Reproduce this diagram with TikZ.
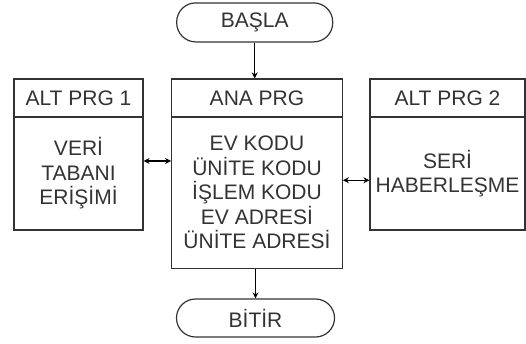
\documentclass[tikz,border=0pt]{standalone}
\usepackage{fontspec}
\setmainfont{Liberation Sans}
\usetikzlibrary{arrows.meta}
\definecolor{linec}{HTML}{333333}
\definecolor{textc}{HTML}{333333}
\tikzset{
  box/.style={draw=linec, line width=1.2pt, rectangle, inner sep=0pt, text=textc, align=center,
    font=\fontsize{21}{24.5}\selectfont},
  term/.style={box, rounded corners=19pt},
  conn/.style={draw=black, line width=1.1pt, -{Stealth[length=6pt,width=6pt]}},
  dbl/.style={draw=black, line width=1.1pt, {Stealth[length=6pt,width=6pt]}-{Stealth[length=6pt,width=6pt]}}
}
\begin{document}
\begin{tikzpicture}[x=1pt,y=-1pt]
\useasboundingbox (0,0) rectangle (526,343);
\fill[white] (0,0) rectangle (526,343);
\node[term, minimum width=156pt, minimum height=39pt] (basla) at (254.7,22.4) {BAŞLA};
\node[box, minimum width=129pt, minimum height=38pt] (h1) at (78.5,98) {ALT PRG 1};
\node[box, minimum width=129pt, minimum height=113pt] (b1) at (78.5,173.5) {VERİ\\TABANI\\ERİŞİMİ};
\node[box, minimum width=170.6pt, minimum height=38pt] (h0) at (257,98) {ANA PRG};
\node[box, minimum width=170.6pt, minimum height=151.5pt] (b0) at (257,192.75) {EV KODU\\ÜNİTE KODU\\İŞLEM KODU\\EV ADRESİ\\ÜNİTE ADRESİ};
\node[box, minimum width=155pt, minimum height=38pt] (h2) at (447.5,98) {ALT PRG 2};
\node[box, minimum width=155pt, minimum height=113pt] (b2) at (447.5,173.5) {SERİ\\HABERLEŞME};
\node[term, minimum width=158pt, minimum height=38pt] (bitir) at (255.5,318) {BİTİR};
\draw[conn] (basla.south) -- (basla.south |- h0.north);
\draw[conn] (bitir.north |- b0.south) -- (bitir.north);
\draw[dbl] ([yshift=12.5pt]b1.east) -- ([yshift=12.5pt]b1.east -| b0.west);
\draw[dbl] ([yshift=12.5pt]b0.east) -- ([yshift=12.5pt]b0.east -| b2.west);
\end{tikzpicture}
\end{document}
